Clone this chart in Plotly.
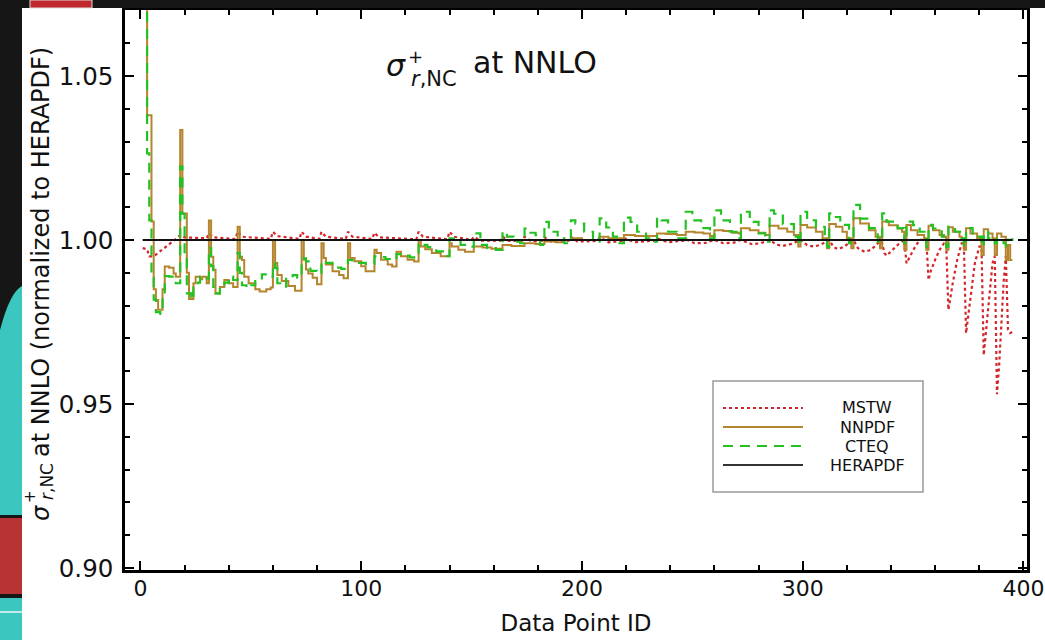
import plotly.graph_objects as go

# ---------------- data (Data Point ID, ratio to HERAPDF) ----------------
mstw_points = [
    (1, 0.9975), (3, 0.9972), (4, 0.995), (6, 0.995), (17, 1.0008), (18, 1.0015), (20, 1.0008),
    (30, 1.0005), (31, 1.002), (33, 1.0008), (43, 1.0003), (44, 1.0025), (46, 1.001), (59, 1.0003),
    (60, 1.0025), (62, 1.0012), (72, 1.0003), (73, 1.0025), (75, 1.001), (81, 1.0003), (82, 1.0025),
    (84, 1.001), (93, 1.0003), (94, 1.0025), (96, 1.001), (105, 1.0003), (106, 1.0022), (108, 1.0008),
    (125, 1.0002), (126, 1.0025), (128, 1.001), (139, 1.0002), (140, 1.0025), (142, 1.001), (150, 1.0),
    (151, 1.001), (154, 0.9998), (163, 0.9998), (164, 1.001), (167, 0.9997), (173, 0.9998), (174, 1.001),
    (177, 0.9996), (182, 0.9998), (183, 1.0008), (186, 0.9995), (194, 0.9998), (195, 1.001), (198, 0.9995),
    (207, 0.9997), (208, 1.0008), (212, 0.9993), (218, 0.9997), (219, 1.0006), (224, 0.9993), (233, 0.9998),
    (234, 1.0005), (239, 0.9993), (246, 0.9998), (247, 1.0003), (251, 0.999), (256, 0.9991), (259, 0.9998),
    (260, 1.0), (264, 0.999), (269, 0.9992), (271, 0.9998), (272, 1.0), (277, 0.9987), (281, 0.999),
    (284, 0.9998), (285, 1.0), (288, 0.9986), (291, 0.9982), (295, 0.9988), (298, 0.9998), (299, 1.0),
    (302, 0.9984), (305, 0.998), (308, 0.9985), (311, 0.9998), (312, 1.0), (314, 0.9978), (316, 0.9972),
    (319, 0.998), (322, 0.9998), (323, 1.0), (325, 0.9975), (328, 0.9964), (331, 0.997), (334, 0.999),
    (335, 0.9998), (336, 0.999), (337, 0.996), (338, 0.9952), (340, 0.9965), (343, 0.9985), (346, 1.0),
    (347, 0.9929), (349, 0.9955), (351, 0.998), (353, 1.0), (356, 1.0),
    (357, 0.9878), (358, 0.9905), (360, 0.994), (362, 0.997), (364, 0.999), (365, 0.999),
    (366, 0.9787), (367, 0.983), (368, 0.987), (370, 0.994), (372, 0.999), (373, 0.999),
    (374, 0.9716), (375, 0.977), (376, 0.983), (377, 0.988), (378, 0.993), (380, 0.998), (381, 0.998),
    (382, 0.9649), (383, 0.972), (384, 0.98), (385, 0.987), (386, 0.993), (387, 0.995),
    (388, 0.953), (389, 0.962), (390, 0.975), (391, 0.987), (392, 0.995),
    (393, 0.9726), (394, 0.9716), (395, 0.972),
]

nnpdf_points = [
    (1, 1.12), (3, 1.038), (5, 1.0056), (6, 0.985), (7, 0.9817), (8, 0.9787), (10, 0.985), (11, 0.9919),
    (13, 0.9915), (15, 0.9898), (16, 0.9888),
    (18, 1.0335), (19, 1.0081), (21, 0.99), (22, 0.982), (24, 0.9868), (25, 0.9888), (27, 0.988),
    (28, 0.9888), (30, 0.9868),
    (31, 1.0059), (32, 0.9949), (33, 0.9909), (34, 0.9837), (36, 0.9857), (38, 0.9878), (40, 0.9868),
    (42, 0.9857),
    (44, 1.004), (45, 0.9949), (46, 0.9939), (47, 0.9888), (49, 0.9868), (52, 0.985), (54, 0.9843),
    (57, 0.985), (59, 0.9855),
    (60, 1.0), (61, 0.993), (62, 0.9893), (64, 0.9875), (67, 0.986), (70, 0.9845),
    (73, 1.0), (74, 0.994), (75, 0.991), (76, 0.9898), (78, 0.9885), (80, 0.9865),
    (82, 0.999), (83, 0.9945), (84, 0.9925), (87, 0.9905), (90, 0.9893), (92, 0.9883),
    (94, 0.999), (95, 0.9945), (97, 0.9935), (100, 0.992), (102, 0.9905),
    (106, 0.997), (107, 0.996), (109, 0.994), (112, 0.9925), (114, 0.9919),
    (116, 0.9964), (118, 0.995), (121, 0.994), (124, 0.9934),
    (126, 1.0), (127, 0.998), (129, 0.9972), (132, 0.996), (136, 0.995),
    (140, 0.999), (141, 0.998), (144, 0.997), (147, 0.9964),
    (151, 0.998), (155, 0.9977), (159, 0.9973),
    (164, 0.9985), (168, 0.9982),
    (174, 0.999), (179, 0.9988),
    (183, 0.9995), (188, 0.9993), (192, 1.0),
    (195, 1.0005), (200, 1.0),
    (208, 1.001), (212, 1.0005),
    (219, 1.0015), (224, 1.0012),
    (234, 1.002), (238, 1.0018), (243, 1.0015),
    (247, 1.0025), (251, 1.0023), (255, 1.002), (258, 1.0012),
    (260, 1.003), (264, 1.0027), (268, 1.0022), (271, 1.002),
    (272, 1.0036), (276, 1.003), (280, 1.0022), (283, 1.0015),
    (285, 1.0043), (289, 1.0035), (293, 1.0025), (296, 1.0015), (298, 0.998),
    (299, 1.0046), (302, 1.0038), (306, 1.0025), (309, 1.0005), (311, 0.9975),
    (312, 1.0049), (315, 1.004), (318, 1.0025), (320, 1.0005), (322, 0.9975),
    (323, 1.0066), (326, 1.005), (330, 1.003), (333, 1.001), (335, 0.9975),
    (336, 1.0056), (339, 1.0045), (343, 1.0035), (345, 1.0025), (346, 0.997),
    (347, 1.0046), (349, 1.003), (352, 1.0015), (355, 1.0005), (356, 0.997),
    (357, 1.0043), (359, 1.003), (362, 1.0015), (364, 1.001), (365, 0.997),
    (366, 1.0039), (368, 1.0025), (371, 1.001), (372, 1.0005), (373, 0.997),
    (374, 1.0036), (376, 1.002), (379, 1.0005), (381, 0.9954),
    (382, 1.0033), (384, 1.002), (386, 1.0005), (387, 0.9954),
    (388, 1.002), (390, 1.001), (392, 0.9939),
    (393, 0.9985), (394, 0.9939), (395, 0.9939),
]

cteq_points = [
    (1, 1.12), (3, 1.0264), (4, 1.006), (5, 0.99), (6, 0.9818), (7, 0.978), (9, 0.9775), (10, 0.984),
    (11, 0.989), (13, 0.9888), (16, 0.9868),
    (18, 1.0224), (19, 1.008), (20, 0.995), (21, 0.9837), (23, 0.9818), (24, 0.9862), (26, 0.987),
    (27, 0.9888), (30, 0.9883),
    (31, 0.9975), (32, 0.992), (33, 0.9857), (34, 0.9837), (36, 0.985), (38, 0.987), (40, 0.9888),
    (42, 0.9878),
    (44, 0.996), (45, 0.99), (46, 0.9862), (48, 0.9855), (50, 0.9862), (52, 0.9875), (55, 0.9895),
    (58, 0.9888),
    (60, 0.993), (61, 0.9915), (62, 0.9868), (64, 0.9858), (66, 0.989), (69, 0.9893), (71, 0.9885),
    (73, 0.9944), (75, 0.9935), (77, 0.9906), (80, 0.9898),
    (82, 0.9935), (84, 0.993), (87, 0.9916), (91, 0.9912),
    (94, 0.9939), (96, 0.9934), (99, 0.993), (102, 0.9927),
    (106, 0.995), (108, 0.9948), (111, 0.9942), (114, 0.994),
    (116, 0.9957), (119, 0.9952), (122, 0.9947),
    (126, 0.999), (128, 0.9985), (130, 0.9978), (134, 0.9965), (137, 0.9951),
    (140, 1.0005), (142, 0.9995), (145, 0.9985), (148, 0.998),
    (151, 1.002), (154, 0.9985), (157, 0.9975), (161, 0.997),
    (164, 1.0025), (166, 1.001), (169, 0.9995), (172, 0.999),
    (174, 1.0035), (176, 1.0022), (179, 1.0015), (181, 0.9985),
    (183, 1.0055), (185, 1.0025), (189, 1.0005), (192, 0.999),
    (195, 1.006), (197, 1.005), (201, 1.0025), (205, 0.9995),
    (208, 1.0066), (211, 1.0038), (214, 1.001), (217, 0.999),
    (219, 1.0068), (222, 1.0055), (225, 1.0025), (229, 1.0005), (232, 0.9995),
    (234, 1.0068), (236, 1.006), (239, 1.0025), (243, 1.0005),
    (247, 1.0086), (250, 1.006), (254, 1.0036), (258, 1.0005),
    (260, 1.009), (263, 1.006), (267, 1.0025), (270, 1.0005),
    (272, 1.0086), (276, 1.0055), (280, 1.002), (283, 0.9995),
    (285, 1.009), (287, 1.008), (291, 1.0048), (296, 1.001), (298, 0.9985),
    (299, 1.0086), (302, 1.006), (306, 1.004), (310, 1.001), (311, 0.998),
    (312, 1.0081), (314, 1.007), (317, 1.0046), (321, 0.999),
    (323, 1.0107), (326, 1.0065), (330, 1.0036), (334, 0.9995),
    (336, 1.0081), (338, 1.0056), (343, 1.0036), (346, 0.999),
    (347, 1.0056), (350, 1.0045), (353, 1.0025), (356, 0.998),
    (357, 1.0046), (359, 1.0035), (363, 1.001), (365, 0.998),
    (366, 1.0041), (369, 1.0025), (372, 1.0005), (373, 0.998),
    (374, 1.0036), (377, 1.001), (381, 0.998),
    (382, 1.0025), (384, 1.0005), (387, 0.999),
    (388, 1.0005), (391, 0.999), (392, 0.998),
    (393, 1.0), (395, 1.0005),
]

herapdf_x = [1, 395]
herapdf_y = [1.0, 1.0]

mstw_x, mstw_y = [p[0] for p in mstw_points], [p[1] for p in mstw_points]
nnpdf_x, nnpdf_y = [p[0] for p in nnpdf_points], [p[1] for p in nnpdf_points]
cteq_x, cteq_y = [p[0] for p in cteq_points], [p[1] for p in cteq_points]

series_names = ["MSTW", "NNPDF", "CTEQ", "HERAPDF"]
colors = {"MSTW": "#d3252a", "NNPDF": "#b5852e", "CTEQ": "#22c222", "HERAPDF": "#111111"}
dashes = {"MSTW": "3px,3px", "NNPDF": "solid", "CTEQ": "10px,7px", "HERAPDF": "solid"}

FONT = "DejaVu Sans"
W, H = 1045, 640
L, R, T, B = 125, 18, 10, 70
PW, PH = W - L - R, H - T - B


def px(xp):
    return (xp - L) / PW


def py(yp):
    return (H - B - yp) / PH


fig = go.Figure()
fig.add_trace(go.Scatter(x=mstw_x, y=mstw_y, mode="lines", name="MSTW",
                         line=dict(color=colors["MSTW"], width=2.2, dash=dashes["MSTW"])))
fig.add_trace(go.Scatter(x=nnpdf_x, y=nnpdf_y, mode="lines", name="NNPDF", line_shape="hv",
                         line=dict(color=colors["NNPDF"], width=2)))
fig.add_trace(go.Scatter(x=cteq_x, y=cteq_y, mode="lines", name="CTEQ", line_shape="hv",
                         line=dict(color=colors["CTEQ"], width=2.2, dash=dashes["CTEQ"])))
fig.add_trace(go.Scatter(x=herapdf_x, y=herapdf_y, mode="lines", name="HERAPDF",
                         line=dict(color=colors["HERAPDF"], width=2)))

axis_common = dict(
    showline=True, linecolor="black", linewidth=2.5, mirror="allticks",
    ticks="inside", ticklen=9, tickwidth=2, tickcolor="black",
    showgrid=False, zeroline=False, ticklabeloverflow="allow", automargin=False,
)

fig.update_layout(
    width=W, height=H,
    margin=dict(l=L, r=R, t=T, b=B, autoexpand=False),
    paper_bgcolor="white", plot_bgcolor="white",
    showlegend=False,
    xaxis=dict(range=[-7, 401.6], tick0=0, dtick=100,
               minor=dict(tick0=0, dtick=20, ticks="inside", ticklen=5, tickwidth=1.5, tickcolor="black"),
               ticklabelstandoff=-3,
               tickfont=dict(family=FONT, size=22, color="#111"),
               title=dict(text="Data Point ID", font=dict(family=FONT, size=23, color="#111"), standoff=15),
               **axis_common),
    yaxis=dict(range=[0.8994, 1.0701], tick0=0.9, dtick=0.05, tickformat=".2f",
               minor=dict(tick0=0.9, dtick=0.01, ticks="inside", ticklen=5, tickwidth=1.5, tickcolor="black"),
               ticklabelstandoff=4,
               tickfont=dict(family=FONT, size=24.5, color="#111"),
               **axis_common),
)

shapes = []
# slide backdrop around the chart
shapes.append(dict(type="rect", xref="paper", yref="paper", x0=px(0), x1=px(22), y0=py(640), y1=py(0),
                   fillcolor="#161616", line=dict(width=0), layer="above"))
shapes.append(dict(type="rect", xref="paper", yref="paper", x0=px(0), x1=px(W), y0=py(8), y1=py(0),
                   fillcolor="#161616", line=dict(width=0), layer="above"))
shapes.append(dict(type="rect", xref="paper", yref="paper", x0=px(30), x1=px(92), y0=py(8), y1=py(0),
                   fillcolor="#c0282d", line=dict(color="#dddddd", width=1), layer="above"))
shapes.append(dict(type="path", xref="paper", yref="paper",
                   path=f"M {px(0)},{py(330)} Q {px(10)},{py(292)} {px(22)},{py(286)} L {px(22)},{py(515)} L {px(0)},{py(515)} Z",
                   fillcolor="#3cc6c0", line=dict(width=0), layer="above"))
shapes.append(dict(type="rect", xref="paper", yref="paper", x0=px(0), x1=px(22), y0=py(594), y1=py(518),
                   fillcolor="#b83434", line=dict(width=0), layer="above"))
shapes.append(dict(type="rect", xref="paper", yref="paper", x0=px(0), x1=px(22), y0=py(640), y1=py(598),
                   fillcolor="#3cc6c0", line=dict(width=0), layer="above"))
shapes.append(dict(type="line", xref="paper", yref="paper", x0=px(0), x1=px(22), y0=py(612), y1=py(612),
                   line=dict(color="#e8f8f8", width=1.5), layer="above"))

# legend box drawn by hand (centered labels, long samples)
shapes.append(dict(type="rect", xref="paper", yref="paper", x0=px(713), x1=px(923), y0=py(492), y1=py(381),
                   fillcolor="white", line=dict(color="#9a9a9a", width=1.5), layer="above"))
legend_rows = [408, 427, 446, 465]
for name, yrow in zip(series_names, legend_rows):
    shapes.append(dict(type="line", xref="paper", yref="paper", x0=px(723), x1=px(803), y0=py(yrow), y1=py(yrow),
                       line=dict(color=colors[name] if name != "HERAPDF" else "#333333", width=2.2,
                                 dash=dashes[name]), layer="above"))
fig.update_layout(shapes=shapes)

ann = []
for name, yrow in zip(series_names, legend_rows):
    ann.append(dict(text=name, x=px(867), y=py(yrow), xref="paper", yref="paper", showarrow=False,
                    xanchor="center", yanchor="middle", borderpad=0,
                    font=dict(family=FONT, size=16, color="#111")))

# in-plot title: sigma^+_{r,NC} at NNLO
ann.append(dict(text="<i>σ</i>", x=px(396), y=py(66), xref="paper", yref="paper", showarrow=False,
                xanchor="center", yanchor="middle", font=dict(family=FONT, size=30, color="#111")))
ann.append(dict(text="+", x=px(415), y=py(56), xref="paper", yref="paper", showarrow=False,
                xanchor="center", yanchor="middle", font=dict(family=FONT, size=18, color="#111")))
ann.append(dict(text="<i>r</i>,NC", x=px(409), y=py(79), xref="paper", yref="paper", showarrow=False,
                xanchor="left", yanchor="middle", font=dict(family=FONT, size=21, color="#111")))
ann.append(dict(text="at NNLO", x=px(535), y=py(62.5), xref="paper", yref="paper", showarrow=False,
                xanchor="center", yanchor="middle", font=dict(family=FONT, size=30, color="#111")))

# rotated y-axis title pieces
ann.append(dict(text="at NNLO (normalized to HERAPDF)", x=px(41), y=py(252), xref="paper", yref="paper",
                showarrow=False, textangle=-90, xanchor="center", yanchor="middle",
                font=dict(family=FONT, size=24, color="#111")))
ann.append(dict(text="<i>σ</i>", x=px(41), y=py(513), xref="paper", yref="paper",
                showarrow=False, textangle=-90, xanchor="center", yanchor="middle",
                font=dict(family=FONT, size=24, color="#111")))
ann.append(dict(text="+", x=px(30), y=py(497), xref="paper", yref="paper",
                showarrow=False, textangle=-90, xanchor="center", yanchor="middle",
                font=dict(family=FONT, size=15, color="#111")))
ann.append(dict(text="<i>r</i>,NC", x=px(47), y=py(482), xref="paper", yref="paper",
                showarrow=False, textangle=-90, xanchor="center", yanchor="middle",
                font=dict(family=FONT, size=17, color="#111")))
fig.update_layout(annotations=ann)

fig.write_html("out.html")
